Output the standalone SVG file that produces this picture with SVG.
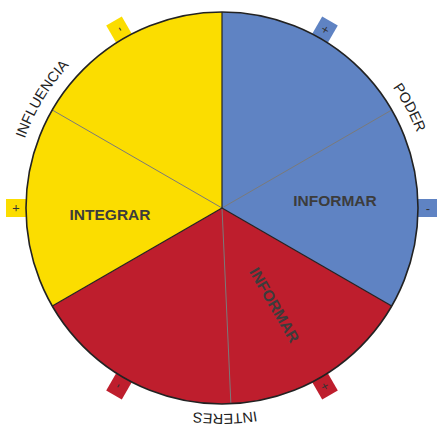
<svg xmlns="http://www.w3.org/2000/svg" width="437" height="428" viewBox="0 0 437 428">
  <style>
    .lbl{font-family:"Liberation Sans",Arial,sans-serif;font-weight:bold;font-size:15.5px;fill:#3c3c3c;text-anchor:middle}
    .arc{font-family:"Liberation Sans",Arial,sans-serif;font-size:14.5px;fill:#222}
    .sign{font-family:"Liberation Sans",Arial,sans-serif;font-size:13px;fill:#333;text-anchor:middle}
    .div{stroke:#222;stroke-width:1.2;fill:none}
    .sub{stroke:#7a7a7a;stroke-width:1;fill:none}
    .y{fill:#fbdd00}.b{fill:#5f83c3}.r{fill:#be1e2d}
  </style>
  <defs>
    <path id="arcInf" d="M13,208 A209,209 0 0 1 117.5,27"/>
    <path id="arcPod" d="M326.5,27 A209,209 0 0 1 431,208"/>
    <path id="arcInt" d="M325,386.4 A206,206 0 0 1 119,386.4"/>
  </defs>
  <rect width="437" height="428" fill="#fff"/>
  <g id="boxes">
    <g id="box-yellow-minus" transform="rotate(-120 222 208)">
      <rect class="y" x="412" y="199" width="26" height="18"/>
      <text class="sign" x="428" y="212.5">-</text>
    </g>
    <g id="box-yellow-plus" transform="rotate(180 222 208)">
      <rect class="y" x="412" y="199" width="26" height="18"/>
      <text class="sign" x="428" y="212.5">+</text>
    </g>
    <g id="box-blue-plus" transform="rotate(-60 222 208)">
      <rect class="b" x="412" y="199" width="26" height="18"/>
      <text class="sign" x="428" y="212.5">+</text>
    </g>
    <g id="box-blue-minus">
      <rect class="b" x="412" y="199" width="26" height="18"/>
      <text class="sign" x="428" y="212.5">-</text>
    </g>
    <g id="box-red-plus" transform="rotate(60 222 208)">
      <rect class="r" x="412" y="199" width="26" height="18"/>
      <text class="sign" x="428" y="212.5">+</text>
    </g>
    <g id="box-red-minus" transform="rotate(120 222 208)">
      <rect class="r" x="412" y="199" width="26" height="18"/>
      <text class="sign" x="428" y="212.5">-</text>
    </g>
  </g>
  <g id="sector-blue">
    <path class="b" d="M222,208 L222,12 A196,196 0 0 1 391.7,306 Z"/>
    <text class="lbl" x="335" y="206">INFORMAR</text>
  </g>
  <g id="sector-red">
    <path class="r" d="M222,208 L391.7,306 A196,196 0 0 1 52.3,306 Z"/>
    <text class="lbl" transform="translate(274.5,305) rotate(60)" x="0" y="5.5">INFORMAR</text>
  </g>
  <g id="sector-yellow">
    <path class="y" d="M222,208 L52.3,306 A196,196 0 0 1 222,12 Z"/>
    <text class="lbl" x="110" y="220">INTEGRAR</text>
  </g>
  <g id="connectors">
    <line class="sub" x1="222" y1="208" x2="52.3" y2="110"/>
    <line class="sub" x1="222" y1="208" x2="391.7" y2="110"/>
    <line class="sub" x1="222" y1="208" x2="230.9" y2="403.8"/>
    <line class="div" x1="222" y1="208" x2="222" y2="12" stroke="#555"/>
    <line class="div" x1="222" y1="208" x2="391.7" y2="306"/>
    <line class="div" x1="222" y1="208" x2="52.3" y2="306"/>
    <circle cx="222" cy="208" r="196" fill="none" stroke="#222" stroke-width="1.6"/>
  </g>
  <g id="labels">
    <text class="arc"><textPath href="#arcInf" startOffset="52%" text-anchor="middle">INFLUENCIA</textPath></text>
    <text class="arc"><textPath href="#arcPod" startOffset="53%" text-anchor="middle">PODER</textPath></text>
    <text class="arc" font-size="14"><textPath href="#arcInt" startOffset="48.7%" text-anchor="middle">INTERES</textPath></text>
  </g>
</svg>
